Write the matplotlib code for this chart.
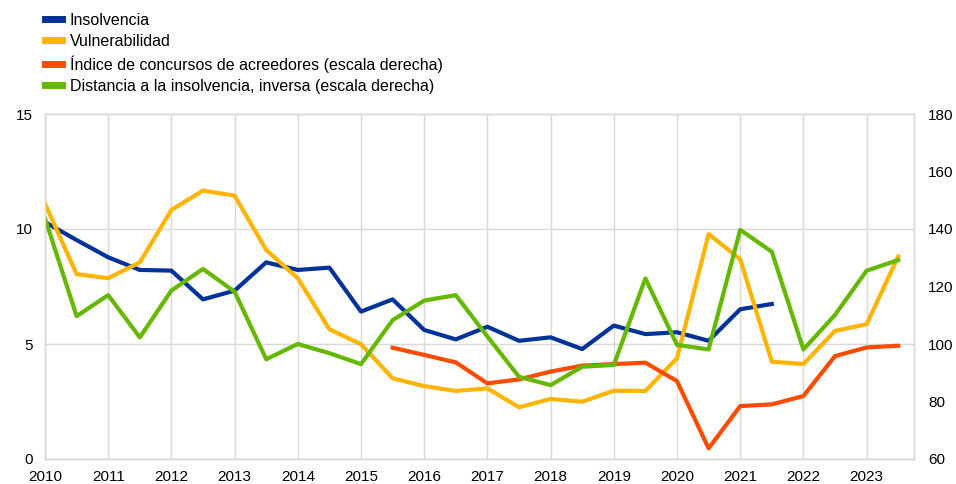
import matplotlib.pyplot as plt
import numpy as np
from matplotlib.lines import Line2D

plt.rcParams['font.family'] = ['Liberation Sans', 'DejaVu Sans']

# semi-annual observations, 2010 H1 .. 2023 H2
years = np.arange(2010, 2024, 0.5)

insolvencia = [10.3, 9.52, 8.77, 8.22, 8.19, 6.94, 7.32, 8.55, 8.22, 8.32,
               6.41, 6.94, 5.61, 5.20, 5.75, 5.14, 5.29, 4.78, 5.80, 5.43,
               5.51, 5.14, 6.51, 6.74]
vulnerabilidad = [11.1, 8.04, 7.86, 8.55, 10.83, 11.67, 11.45, 9.09, 7.86, 5.64,
                  4.99, 3.51, 3.17, 2.96, 3.07, 2.25, 2.61, 2.49, 2.97, 2.96,
                  4.38, 9.78, 8.68, 4.23, 4.13, 5.57, 5.86, 8.80]
# right scale
concursos = [98.7, 96.2, 93.6, 86.3, 87.7, 90.4, 92.5, 93.0, 93.5, 87.1,
             63.7, 78.4, 79.0, 81.9, 95.8, 98.8, 99.4]
distancia = [143.7, 109.7, 117.0, 102.3, 118.6, 126.1, 118.2, 94.7, 100.0, 96.8,
             93.0, 108.3, 115.1, 117.0, 102.6, 88.6, 85.7, 92.1, 92.7, 122.8,
             99.7, 98.1, 139.7, 132.1, 98.1, 110.1, 125.5, 129.2]

labels = ["Insolvencia", "Vulnerabilidad",
          "Índice de concursos de acreedores (escala derecha)",
          "Distancia a la insolvencia, inversa (escala derecha)"]
colors = ["#003299", "#FFB400", "#FF4B00", "#65B800"]

fig = plt.figure(figsize=(9.56, 4.84), dpi=100)
ax = fig.add_axes([45/956, 1 - 459/484, (914-45)/956, (459-114)/484])
ax2 = ax.twinx()

lw = 3
ax.plot(years[:len(insolvencia)], insolvencia, color=colors[0], lw=lw, zorder=3)
ax.plot(years[:len(vulnerabilidad)], vulnerabilidad, color=colors[1], lw=lw, zorder=3)
ax2.plot(years[-len(concursos):], concursos, color=colors[2], lw=lw)
ax2.plot(years[:len(distancia)], distancia, color=colors[3], lw=lw)

ax.set_xlim(2010, 2023.75)
ax.set_ylim(0, 15)
ax2.set_ylim(60, 180)
ax.set_yticks([0, 5, 10, 15])
ax2.set_yticks([60, 80, 100, 120, 140, 160, 180])
ax.set_xticks(range(2010, 2024))

gc = "#d9d9d9"
ax.grid(True, color=gc, lw=1)
ax.set_axisbelow(True)
for a in (ax, ax2):
    for s in a.spines.values():
        s.set_color(gc)
        s.set_linewidth(1)
    a.tick_params(length=0, labelsize=11, colors="#000000")
ax.tick_params(axis='y', pad=9)
ax2.tick_params(axis='y', pad=10)
ax.tick_params(axis='x', pad=8)

handles = [Line2D([], [], color=c, lw=5) for c in colors]
fig.legend(handles, labels, loc='upper left', bbox_to_anchor=(45/956, 1 - 13/484),
           frameon=False, fontsize=11.5, handlelength=1.06, handletextpad=0.5,
           labelspacing=0.38, borderaxespad=0, borderpad=0)

fig.savefig("out.png", dpi=100)
